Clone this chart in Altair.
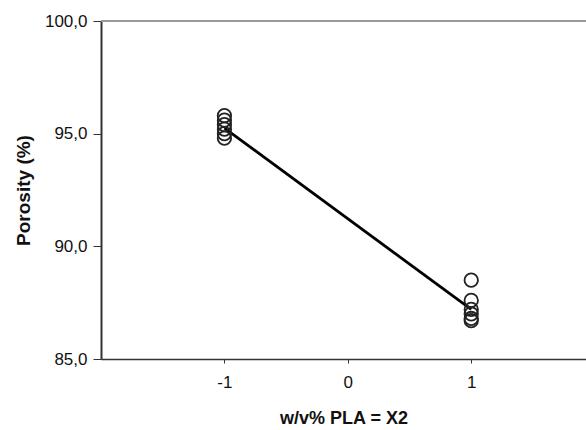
import altair as alt
import pandas as pd

# Coded factor level (w/v% PLA, X2) and measured porosity for each replicate
pla_level = [-1, -1, -1, -1, -1, -1, 1, 1, 1, 1, 1, 1]
porosity = [95.8, 95.6, 95.4, 95.2, 95.0, 94.8, 88.5, 87.6, 87.2, 87.0, 86.8, 86.7]

# Fitted main-effect line between the two levels
fit_level = [-1, 1]
fit_porosity = [95.25, 87.2]

y_ticks = [85, 90, 95, 100]
x_ticks = [-1, 0, 1]

W, H = 485, 338
FONT = "Liberation Sans"

obs = pd.DataFrame({"x": pla_level, "y": porosity})
fit = pd.DataFrame({"x": fit_level, "y": fit_porosity})

x_scale = alt.Scale(domain=[-2, 1.93], nice=False, zero=False)
y_scale = alt.Scale(domain=[85, 100], nice=False, zero=False)

x_axis = alt.Axis(
    title="w/v% PLA = X2",
    values=x_ticks,
    labelExpr="datum.value < 0 ? '-' + format(-datum.value, 'd') : format(datum.value, 'd')",
    grid=False,
    domainColor="#333333",
    domainWidth=1.5,
    tickColor="#333333",
    tickSize=4,
    labelFont=FONT,
    labelFontSize=17,
    labelColor="#111111",
    labelPadding=11,
    titleFont=FONT,
    titleFontSize=18,
    titleFontWeight="bold",
    titleColor="#111111",
    titlePadding=19,
)

y_axis = alt.Axis(
    title="Porosity (%)",
    values=y_ticks,
    labelExpr="replace(format(datum.value, '.1f'), '.', ',')",
    grid=False,
    domainColor="#333333",
    domainWidth=2,
    tickColor="#333333",
    tickSize=8,
    labelFont=FONT,
    labelFontSize=17,
    labelColor="#111111",
    labelPadding=6,
    titleFont=FONT,
    titleFontSize=19,
    titleFontWeight="bold",
    titleColor="#111111",
    titlePadding=11,
)

points = alt.Chart(obs).mark_point(
    shape="circle", filled=False, size=180, stroke="#222222", strokeWidth=1.8, opacity=1
).encode(
    x=alt.X("x:Q", scale=x_scale, axis=x_axis),
    y=alt.Y("y:Q", scale=y_scale, axis=y_axis),
)

line = alt.Chart(fit).mark_line(color="#000000", strokeWidth=2.8).encode(
    x=alt.X("x:Q", scale=x_scale),
    y=alt.Y("y:Q", scale=y_scale),
)

top_border = alt.Chart(pd.DataFrame({"v": [0]})).mark_rule(
    color="#999999", strokeWidth=2
).encode(x=alt.value(0), x2=alt.value(W), y=alt.value(0))

chart = (
    alt.layer(top_border, line, points)
    .properties(
        width=W,
        height=H,
        autosize=alt.AutoSizeParams(type="none"),
        padding={"left": 101, "top": 21, "right": 0, "bottom": 71},
    )
    .configure_view(stroke=None)
    .configure(background="white")
)

chart.save("out.html", embed_options={"renderer": "svg", "actions": False})
